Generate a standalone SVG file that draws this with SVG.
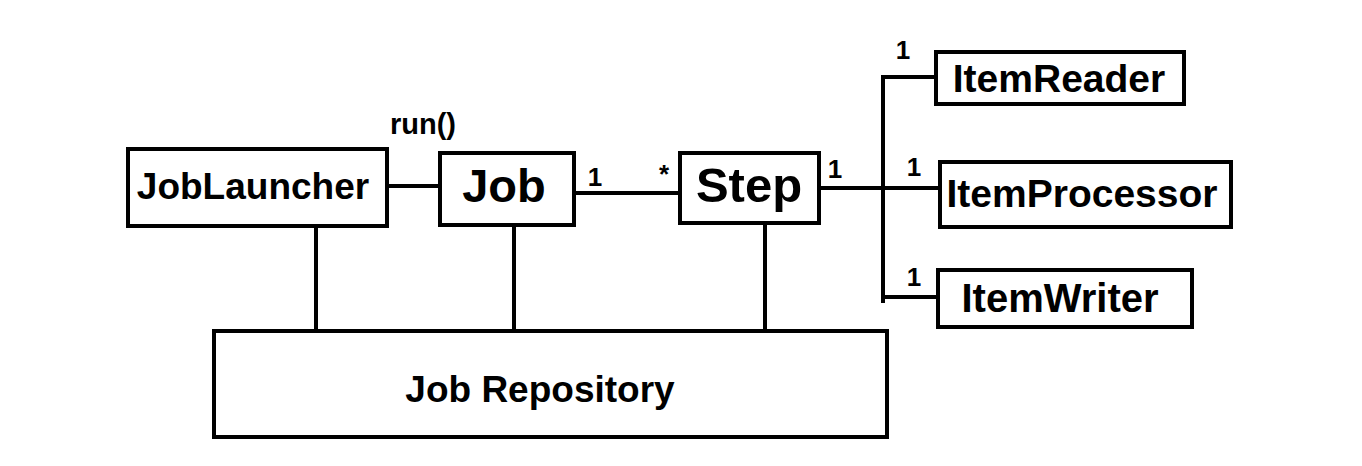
<svg xmlns="http://www.w3.org/2000/svg" width="1362" height="466" viewBox="0 0 1362 466">
<style>
.box{fill:#fff;stroke:#000;stroke-width:4}
.ln{stroke:#000;stroke-width:4;fill:none}
text{font-family:"Liberation Sans",Arial,sans-serif;font-weight:bold;fill:#000;text-anchor:middle}
.lb{font-size:26px}
</style>
<rect width="1362" height="466" fill="#fff"/>
<g id="connectors">
<line class="ln" x1="387" y1="186" x2="440" y2="186"/>
<line class="ln" x1="574" y1="193" x2="680" y2="193"/>
<line class="ln" x1="819" y1="188" x2="883" y2="188"/>
<line class="ln" x1="883" y1="75" x2="883" y2="303"/>
<line class="ln" x1="881" y1="77" x2="936" y2="77"/>
<line class="ln" x1="883" y1="188" x2="940" y2="188"/>
<line class="ln" x1="881" y1="297" x2="938" y2="297"/>
<line class="ln" x1="316" y1="226" x2="316" y2="331"/>
<line class="ln" x1="514" y1="225" x2="514" y2="331"/>
<line class="ln" x1="765" y1="223" x2="765" y2="331"/>
<text x="423" y="134" style="font-size:29px">run()</text>
<text class="lb" x="595" y="186">1</text>
<text class="lb" x="664" y="183">*</text>
<text class="lb" x="835" y="178">1</text>
<text class="lb" x="903" y="59">1</text>
<text class="lb" x="914" y="176">1</text>
<text class="lb" x="914" y="286">1</text>
</g>
<g id="JobLauncher">
<rect class="box" x="128" y="149" width="259" height="77"/>
<text x="253" y="199" style="font-size:37px">JobLauncher</text>
</g>
<g id="Job">
<rect class="box" x="440" y="153" width="134" height="72"/>
<text x="504" y="202" style="font-size:47px">Job</text>
</g>
<g id="Step">
<rect class="box" x="680" y="153" width="139" height="70"/>
<text x="749" y="202" style="font-size:49px">Step</text>
</g>
<g id="ItemReader">
<rect class="box" x="936" y="52" width="248" height="52"/>
<text x="1059" y="92" style="font-size:39px">ItemReader</text>
</g>
<g id="ItemProcessor">
<rect class="box" x="940" y="162" width="291" height="65"/>
<text x="1082" y="207" style="font-size:39px">ItemProcessor</text>
</g>
<g id="ItemWriter">
<rect class="box" x="938" y="270" width="254" height="57"/>
<text x="1060" y="312" style="font-size:40px">ItemWriter</text>
</g>
<g id="JobRepository">
<rect class="box" x="214" y="331" width="673" height="106"/>
<text x="540" y="402" style="font-size:37px">Job Repository</text>
</g>
</svg>
